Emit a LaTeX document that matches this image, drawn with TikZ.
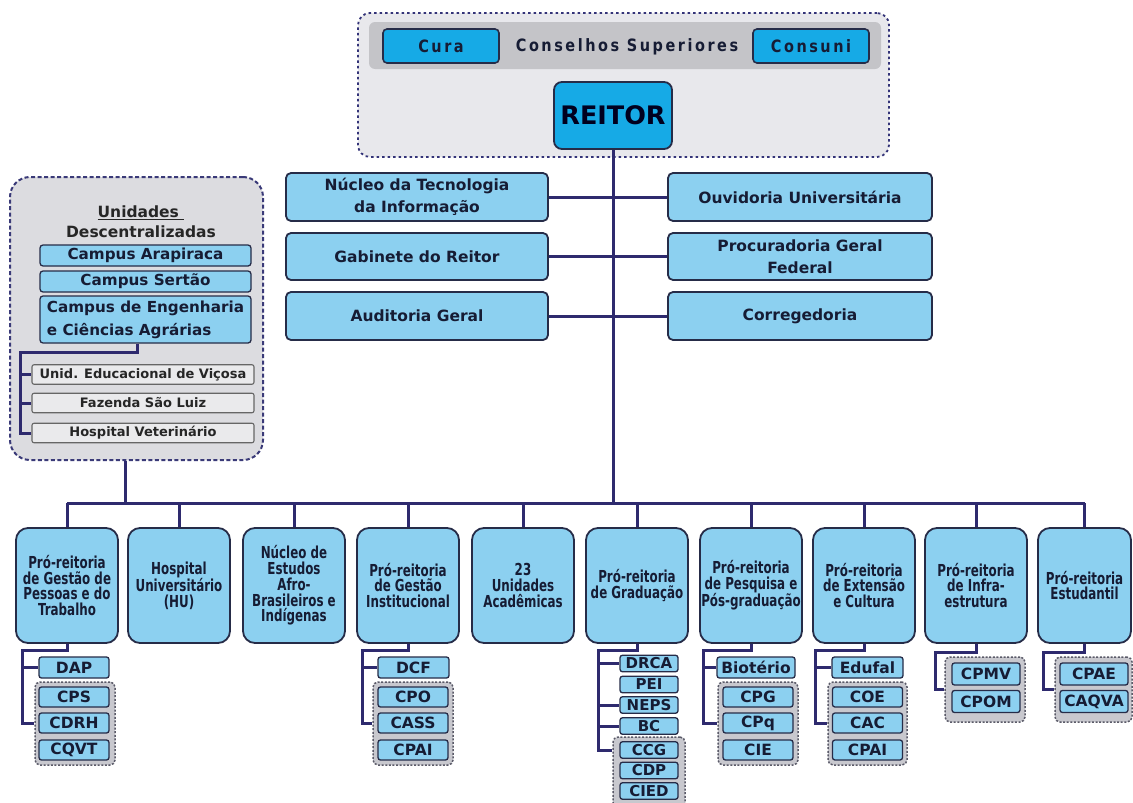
\documentclass[tikz,border=0pt]{standalone}
\usepackage{fontspec}
\setmainfont{DejaVu Sans}
\newfontfamily\condf[FakeStretch=0.72]{DejaVu Sans}
\newfontfamily\trackf[FakeStretch=0.85,LetterSpace=15]{DejaVu Sans}
\usetikzlibrary{calc}
\pgfdeclarelayer{back}
\pgfdeclarelayer{wires}
\pgfsetlayers{back,wires,main}
\definecolor{cyanT}{RGB}{22,170,230}
\definecolor{lblue}{RGB}{140,208,240}
\definecolor{bord}{RGB}{38,44,72}
\definecolor{connc}{RGB}{46,42,110}
\definecolor{txt}{RGB}{22,28,52}
\definecolor{topfill}{RGB}{232,232,236}
\definecolor{bandc}{RGB}{196,196,200}
\definecolor{leftfill}{RGB}{220,220,224}
\definecolor{leftbord}{RGB}{58,58,120}
\definecolor{grayfill}{RGB}{234,234,236}
\definecolor{grpfill}{RGB}{200,200,206}
\definecolor{grpbord}{RGB}{90,90,104}
\tikzset{
  box/.style={draw=bord, line width=1.6pt, inner sep=0pt, align=center, text=txt},
  cyanbox/.style={box, fill=cyanT, rounded corners=4pt, minimum width=116pt, minimum height=34pt,
    font=\trackf\bfseries\fontsize{17}{19}\selectfont},
  midbox/.style={box, fill=lblue, line width=1.8pt, rounded corners=5pt, minimum width=262pt, minimum height=48pt,
    font=\bfseries\fontsize{15.5}{22}\selectfont},
  botbox/.style={box, fill=lblue, line width=1.8pt, rounded corners=12pt, minimum width=102pt, minimum height=115pt,
    font=\condf\bfseries\fontsize{16.5}{15.7}\selectfont},
  kid/.style={box, fill=lblue, line width=1.3pt, rounded corners=2.5pt, minimum width=70pt, minimum height=20pt,
    font=\bfseries\fontsize{15.5}{16}\selectfont},
  gkid/.style={kid, minimum width=58pt, minimum height=16.5pt, font=\bfseries\fontsize{15}{16}\selectfont},
  campus/.style={box, fill=lblue, line width=1.3pt, rounded corners=3pt, minimum width=211pt,
    font=\bfseries\fontsize{15.2}{23}\selectfont},
  grayb/.style={draw=black!60, fill=grayfill, line width=1.1pt, rounded corners=2pt, inner sep=0pt,
    minimum width=222pt, minimum height=19.5pt, text=black!85, font=\bfseries\fontsize{13}{14}\selectfont},
  grp/.style={draw=grpbord, fill=grpfill, line width=1.5pt, dash pattern=on 2pt off 1.6pt,
    rounded corners=5pt, inner sep=0pt},
  topframe/.style={draw=black!55!blue!60!gray, fill=topfill, line width=1.8pt, dash pattern=on 2.5pt off 3pt,
    rounded corners=12pt, inner sep=0pt},
  leftframe/.style={draw=leftbord, fill=leftfill, line width=2pt, dash pattern=on 4pt off 2.5pt,
    rounded corners=20pt, inner sep=0pt},
  wire/.style={draw=connc, line width=3pt},
}
\begin{document}
\begin{tikzpicture}[x=1pt,y=-1pt]
\useasboundingbox (0,0) rectangle (1133,803);

% ---------- frames (back layer)
\begin{pgfonlayer}{back}
\fill[white] (0,0) rectangle (1133,803);
\node[topframe, minimum width=531pt, minimum height=144pt] (council) at (623.5,85) {};
\node[fill=bandc, rounded corners=6pt, inner sep=0pt, minimum width=512pt, minimum height=47pt] (band) at (625,45.5) {};
\node[leftframe, minimum width=253pt, minimum height=283pt] (udframe) at (136.5,318.5) {};
\node[grp, minimum width=80pt, minimum height=83pt] (g1) at (75,723.5) {};
\node[grp, minimum width=80pt, minimum height=83pt] (g4) at (413,723.5) {};
\node[grp, minimum width=72pt, minimum height=76pt] (g6) at (649,775) {};
\node[grp, minimum width=80pt, minimum height=83pt] (g7) at (758,723.5) {};
\node[grp, minimum width=79pt, minimum height=83pt] (g8) at (867.5,723.5) {};
\node[grp, minimum width=80pt, minimum height=65pt] (g9) at (985,689.5) {};
\node[grp, minimum width=77pt, minimum height=65pt] (g10) at (1093.5,689.5) {};
\end{pgfonlayer}

% ---------- top
\node[cyanbox] (cura) at (441,46) {Cura};
\node[text=txt, font=\trackf\bfseries\fontsize{17}{19}\selectfont] (cons) at (627,47) {Conselhos Superiores};
\node[cyanbox] (consuni) at (811,46) {Consuni};
\node[box, fill=cyanT, line width=1.8pt, rounded corners=8pt, minimum width=118pt, minimum height=67pt,
  text=black!80!blue!60!black, font=\bfseries\fontsize{25.5}{27}\selectfont] (reitor) at (613,115.5) {REITOR};

% ---------- middle
\node[midbox] (nti) at (417,197) {Núcleo da Tecnologia\\da Informação};
\node[midbox, minimum width=264pt] (ouv) at (800,197) {Ouvidoria Universitária};
\node[midbox, minimum height=47pt] (gab) at (417,256.5) {Gabinete do Reitor};
\node[midbox, minimum width=264pt, minimum height=47pt] (proc) at (800,256.5) {Procuradoria Geral\\Federal};
\node[midbox] (aud) at (417,316) {Auditoria Geral};
\node[midbox, minimum width=264pt] (corr) at (800,316) {Corregedoria};

% ---------- left unit box
\node[text=black!85, align=center, font=\bfseries\fontsize{15.5}{20}\selectfont] (udtitle) at (141,222)
  {\underline{Unidades\ }\\Descentralizadas};
\node[campus, minimum height=21pt] (arap) at (145.5,255.5) {Campus Arapiraca};
\node[campus, minimum height=21pt] (sert) at (145.5,281.5) {Campus Sertão};
\node[campus, minimum height=47pt, align=left] (eng) at (145.5,319.5) {Campus de Engenharia\\e Ciências Agrárias};
\node[grayb] (uev) at (143,374.5) {Unid. Educacional de Viçosa};
\node[grayb] (fsl) at (143,403) {Fazenda São Luiz};
\node[grayb] (hv) at (143,433) {Hospital Veterinário};

% ---------- bottom row
\node[botbox] (b1) at (67,585.5) {Pró-reitoria\\de Gestão de\\Pessoas e do\\Trabalho};
\node[botbox] (b2) at (179,585.5) {Hospital\\Universitário\\(HU)};
\node[botbox] (b3) at (294,585.5) {Núcleo de\\Estudos\\Afro-\\Brasileiros e\\Indígenas};
\node[botbox] (b4) at (408,585.5) {Pró-reitoria\\de Gestão\\Institucional};
\node[botbox] (b5) at (523,585.5) {23\\Unidades\\Acadêmicas};
\node[botbox] (b6) at (637,585.5) {Pró-reitoria\\de Graduação};
\node[botbox] (b7) at (751,585.5) {Pró-reitoria\\de Pesquisa e\\Pós-graduação};
\node[botbox] (b8) at (864,585.5) {Pró-reitoria\\de Extensão\\e Cultura};
\node[botbox] (b9) at (976,585.5) {Pró-reitoria\\de Infra-\\estrutura};
\node[botbox, minimum width=93pt] (b10) at (1084.5,585.5) {Pró-reitoria\\Estudantil};

% ---------- children
\node[kid, minimum height=21pt] (dap) at (74,667.5) {DAP};
\node[kid] (cps) at (74,697) {CPS};
\node[kid] (cdrh) at (74,723) {CDRH};
\node[kid] (cqvt) at (74,750) {CQVT};

\node[kid, minimum width=71pt, minimum height=21pt] (dcf) at (413.5,667.5) {DCF};
\node[kid] (cpo) at (413,697) {CPO};
\node[kid] (cass) at (413,723) {CASS};
\node[kid] (cpai1) at (413,750) {CPAI};

\node[gkid] (drca) at (649,663.5) {DRCA};
\node[gkid] (pei) at (649,684.5) {PEI};
\node[gkid] (neps) at (649,705) {NEPS};
\node[gkid] (bc) at (649,726) {BC};
\node[gkid] (ccg) at (649,750) {CCG};
\node[gkid] (cdp) at (649,770.5) {CDP};
\node[gkid] (cied) at (649,791) {CIED};

\node[kid, minimum width=78pt, minimum height=21pt] (bio) at (756,667.5) {Biotério};
\node[kid] (cpg) at (758,697) {CPG};
\node[kid] (cpq) at (758,723) {CPq};
\node[kid] (cie) at (758,750) {CIE};

\node[kid, minimum width=71pt, minimum height=21pt] (edu) at (867.5,667.5) {Edufal};
\node[kid] (coe) at (867.5,697) {COE};
\node[kid] (cac) at (867.5,723) {CAC};
\node[kid] (cpai2) at (867.5,750) {CPAI};

\node[kid, minimum width=68pt, minimum height=22pt] (cpmv) at (986,674) {CPMV};
\node[kid, minimum width=68pt, minimum height=22pt] (cpom) at (986,701.5) {CPOM};
\node[kid, minimum width=68pt, minimum height=22pt] (cpae) at (1094,674) {CPAE};
\node[kid, minimum width=68pt, minimum height=22pt] (caqva) at (1094,701.5) {CAQVA};

% ---------- connectors
\coordinate (busy) at (613,503);
\coordinate (ej) at (20,352);
\coordinate (v1) at (22,650);
\coordinate (v4) at (362,650);
\coordinate (v6) at (598,650);
\coordinate (v7) at (703,650);
\coordinate (v8) at (815,650);
\coordinate (v9) at (935,652);
\coordinate (v10) at (1043,652);
\begin{pgfonlayer}{wires}
\draw[wire] (reitor.south) -- (busy);
\draw[wire] (nti.east) -- (ouv.west);
\draw[wire] (gab.east) -- (proc.west);
\draw[wire] (aud.east) -- (corr.west);
\draw[wire] (b1.north |- busy) -- (b10.north |- busy);
\foreach \b in {b1,b2,b3,b4,b5,b6,b7,b8,b9,b10}
  \draw[wire] (\b.north |- busy) -- (\b.north);
\draw[wire] ($(udframe.south)+(-11.5,0)$) -- ($(udframe.south |- busy)+(-11.5,0)$);
\draw[wire] ($(eng.south)+(-8.5,0)$) |- (ej) |- (hv.west);
\draw[wire] (ej |- uev.west) -- (uev.west);
\draw[wire] (ej |- fsl.west) -- (fsl.west);
\draw[wire] (b1.south) |- (v1) |- (g1.west);
\draw[wire] (v1 |- dap.west) -- (dap.west);
\draw[wire] (b4.south) |- (v4) |- (g4.west);
\draw[wire] (v4 |- dcf.west) -- (dcf.west);
\draw[wire] (b6.south) |- (v6) |- (ccg.west -| g6.west);
\draw[wire] (v6 |- drca.west) -- (drca.west);
\draw[wire] (v6 |- neps.west) -- (neps.west);
\draw[wire] (v6 |- bc.west) -- (bc.west);
\draw[wire] (b7.south) |- (v7) |- (g7.west);
\draw[wire] (v7 |- bio.west) -- (bio.west);
\draw[wire] (b8.south) |- (v8) |- (g8.west);
\draw[wire] (v8 |- edu.west) -- (edu.west);
\draw[wire] (b9.south) |- (v9) |- (g9.west);
\draw[wire] (b10.south) |- (v10) |- (g10.west);
\end{pgfonlayer}
\end{tikzpicture}
\end{document}
